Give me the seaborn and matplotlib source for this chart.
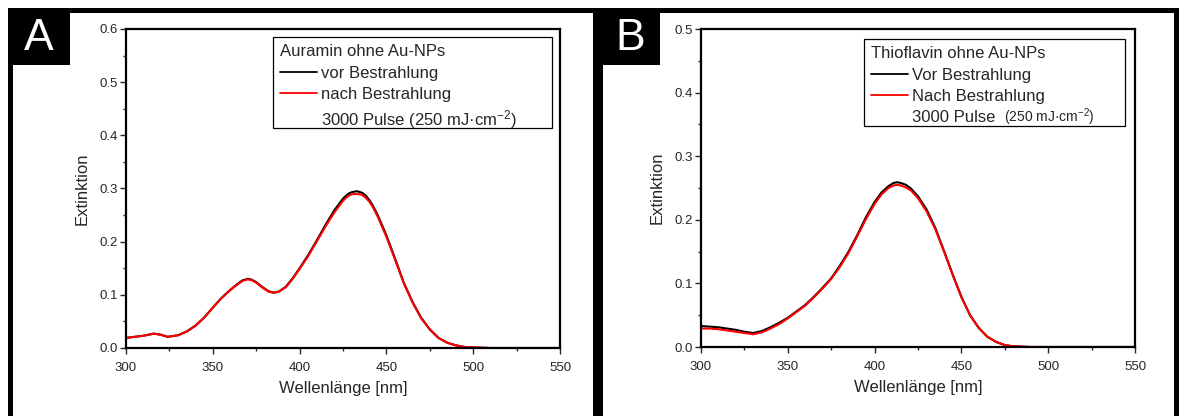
import matplotlib
matplotlib.use("Agg")
import matplotlib.pyplot as plt
import seaborn as sns
from matplotlib.lines import Line2D
from matplotlib.patches import Rectangle
from matplotlib.ticker import MultipleLocator, FormatStrFormatter


# spectra

wl_auramin = [300, 305, 310, 316, 320, 324, 330, 335, 340, 345, 350, 355, 360, 364,
              367, 370, 372, 375, 378, 382, 385, 388, 392, 396, 400, 405, 410, 415,
              420, 425, 428, 430, 433, 436, 438, 440, 442, 445, 450, 455, 460, 465,
              470, 475, 480, 485, 490, 495, 500, 510, 550]
auramin_vor = [0.019, 0.021, 0.023, 0.027, 0.025, 0.021, 0.024, 0.031, 0.042, 0.057,
               0.076, 0.094, 0.109, 0.120, 0.127, 0.130, 0.129, 0.124, 0.116, 0.107,
               0.104, 0.106, 0.115, 0.131, 0.150, 0.175, 0.203, 0.232, 0.259, 0.281,
               0.290, 0.293, 0.295, 0.292, 0.287, 0.279, 0.269, 0.250, 0.212, 0.168,
               0.123, 0.087, 0.057, 0.035, 0.019, 0.010, 0.005, 0.002, 0.001, 0.000,
               0.000]
auramin_nach = [0.019, 0.021, 0.023, 0.027, 0.025, 0.021, 0.024, 0.031, 0.042, 0.057,
                0.076, 0.094, 0.109, 0.119, 0.126, 0.129, 0.128, 0.123, 0.115, 0.106,
                0.104, 0.106, 0.114, 0.130, 0.149, 0.173, 0.201, 0.229, 0.255, 0.277,
                0.286, 0.289, 0.290, 0.288, 0.283, 0.276, 0.266, 0.247, 0.209, 0.166,
                0.122, 0.086, 0.056, 0.035, 0.019, 0.010, 0.005, 0.002, 0.001, 0.000,
                0.000]

wl_thioflavin = [300, 305, 310, 315, 320, 325, 330, 335, 340, 345, 350, 355, 360, 365,
                 370, 375, 380, 385, 390, 395, 400, 404, 408, 411, 413, 415, 418, 421,
                 425, 430, 435, 440, 445, 450, 455, 460, 465, 470, 475, 480, 490, 550]
thioflavin_vor = [0.033, 0.032, 0.031, 0.029, 0.027, 0.024, 0.022, 0.025, 0.031, 0.038,
                  0.046, 0.056, 0.066, 0.079, 0.093, 0.108, 0.128, 0.150, 0.176, 0.204,
                  0.228, 0.243, 0.253, 0.258, 0.259, 0.258, 0.255, 0.249, 0.237, 0.216,
                  0.187, 0.151, 0.114, 0.079, 0.050, 0.030, 0.016, 0.008, 0.003, 0.001,
                  0.000, 0.000]
thioflavin_nach = [0.029, 0.029, 0.028, 0.026, 0.024, 0.022, 0.020, 0.023, 0.029, 0.036,
                   0.045, 0.055, 0.065, 0.078, 0.092, 0.107, 0.126, 0.148, 0.174, 0.201,
                   0.225, 0.240, 0.250, 0.254, 0.255, 0.254, 0.251, 0.246, 0.234, 0.213,
                   0.185, 0.150, 0.113, 0.078, 0.050, 0.030, 0.016, 0.008, 0.003, 0.001,
                   0.000, 0.000]

panel_letters = ["A", "B"]
legend_titles = ["Auramin ohne Au-NPs", "Thioflavin ohne Au-NPs"]
labels_vor = ["vor Bestrahlung", "Vor Bestrahlung"]
labels_nach = ["nach Bestrahlung", "Nach Bestrahlung"]
pulse_labels = ["3000 Pulse (250 mJ·cm$\\mathregular{^{-2}}$)", "3000 Pulse"]
dose_small = [None, "(250 mJ·cm$\\mathregular{^{-2}}$)"]
y_max = [0.6, 0.5]


sns.set_style("ticks")
plt.rcParams["font.family"] = ["Liberation Sans", "DejaVu Sans"]

W, H = 1179, 416
fig = plt.figure(figsize=(W / 100, H / 100), dpi=100)


def px_box(x0, y0, x1, y1):
    # pixel box (top-left origin) -> figure fraction rect
    return [x0 / W, 1 - y1 / H, (x1 - x0) / W, (y1 - y0) / H]


axes_px = [(126, 29, 560, 348), (701, 29, 1135, 347)]
legend_px = [(273, 37, 552, 128), (864, 39, 1125, 126)]
axes = [fig.add_axes(px_box(*b)) for b in axes_px]

data = [
    (wl_auramin, auramin_vor, auramin_nach),
    (wl_thioflavin, thioflavin_vor, thioflavin_nach),
]

legends = []
for i, (wl, vor, nach) in enumerate(data):
    ax = axes[i]
    sns.lineplot(x=wl, y=vor, color="black", lw=1.5, ax=ax)
    sns.lineplot(x=wl, y=nach, color="red", lw=1.5, ax=ax)

    ax.set_xlim(300, 550)
    ax.set_ylim(0, y_max[i])
    ax.xaxis.set_major_locator(MultipleLocator(50))
    ax.xaxis.set_minor_locator(MultipleLocator(25))
    ax.yaxis.set_major_locator(MultipleLocator(0.1))
    ax.yaxis.set_minor_locator(MultipleLocator(0.05))
    ax.yaxis.set_major_formatter(FormatStrFormatter("%.1f"))
    ax.tick_params(which="major", direction="out", length=4, width=1,
                   labelsize=9.5, pad=2, top=False, right=False)
    ax.tick_params(axis="x", which="major", pad=6)
    ax.tick_params(which="minor", direction="out", length=2.5, width=1,
                   top=False, right=False)
    for s in ax.spines.values():
        s.set_visible(True)
        s.set_linewidth(1.6)
        s.set_color("black")

    ax.set_xlabel("Wellenlänge [nm]", fontsize=12, labelpad=5)
    ax.set_ylabel("Extinktion", fontsize=12, labelpad=7)

    # legend frame drawn by hand (box is wider than its text)
    ax_x0, ax_y0, ax_x1, ax_y1 = axes_px[i]
    lx0, ly0, lx1, ly1 = legend_px[i]
    aw, ah = ax_x1 - ax_x0, ax_y1 - ax_y0
    fx0 = (lx0 - ax_x0) / aw
    fy0 = (ax_y1 - ly1) / ah
    ax.add_patch(Rectangle((fx0, fy0), (lx1 - lx0) / aw, (ly1 - ly0) / ah,
                           transform=ax.transAxes, fill=False, edgecolor="black",
                           lw=0.9, clip_on=False, zorder=5))

    handles = [
        Line2D([], [], color="black", lw=1.3),
        Line2D([], [], color="red", lw=1.3),
        Line2D([], [], color="none"),
    ]
    leg = ax.legend(handles, [labels_vor[i], labels_nach[i], pulse_labels[i]],
                    title=legend_titles[i], title_fontsize=12, fontsize=12,
                    alignment="left", loc="upper left",
                    bbox_to_anchor=((lx0 + 7 - ax_x0) / aw, (ax_y1 - ly0 - 7) / ah),
                    borderaxespad=0, borderpad=0, frameon=False,
                    handlelength=2.2, handletextpad=0.25, labelspacing=0.36)
    leg._legend_box.sep = 5
    legends.append(leg)

# black frame around the two panels
frame_parts = [
    (8, 8, 1179, 13),      # top bar
    (8, 8, 13, 416),       # left bar
    (593, 8, 603, 416),    # middle bar
    (1174, 8, 1179, 416),  # right bar
    (8, 8, 70, 65),        # label box A
    (593, 8, 660, 65),     # label box B
]
for x0, y0, x1, y1 in frame_parts:
    r = px_box(x0, y0, x1, y1)
    fig.add_artist(Rectangle((r[0], r[1]), r[2], r[3], transform=fig.transFigure,
                             facecolor="black", edgecolor="none"))

for letter, cx in zip(panel_letters, [39, 630]):
    fig.text(cx / W, 1 - 38 / H, letter, color="white", fontsize=32,
             ha="center", va="center")

# smaller dose note behind "3000 Pulse" in panel B
fig.canvas.draw()
renderer = fig.canvas.get_renderer()
for i, note in enumerate(dose_small):
    if note is None:
        continue
    txt = legends[i].get_texts()[2]
    bb = txt.get_window_extent(renderer)
    fig.text((bb.x1 + 9) / W, (bb.y0 + bb.y1) / 2 / H, note, fontsize=10,
             ha="left", va="center")

fig.savefig("out.png", dpi=100)
